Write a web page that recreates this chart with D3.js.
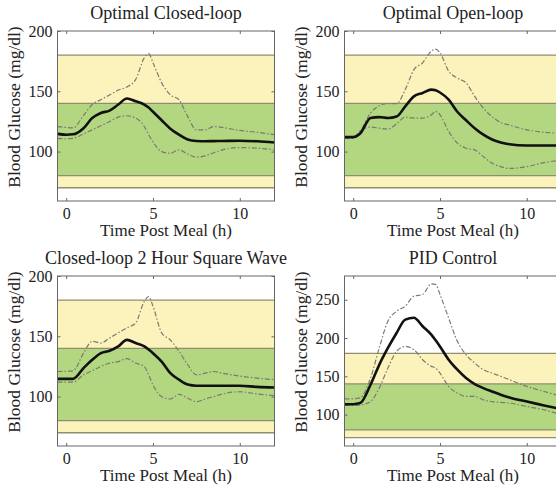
<!DOCTYPE html>
<html>
<head>
<meta charset="utf-8">
<script src="https://cdn.jsdelivr.net/npm/d3@7"></script>
<style>
  html, body { margin: 0; padding: 0; background: #fff; }
  svg { display: block; }
</style>
</head>
<body>
<svg id="chart" width="556" height="488"></svg>
<script>
// Sample times (hours after the meal)
const hours = [-0.5, 0, 0.4, 1, 1.5, 2, 2.5, 3, 3.5, 4, 4.5, 4.75, 5, 5.5, 6, 6.5, 7, 7.5, 8, 8.5, 9, 10, 11, 12];

// Optimal closed-loop: mean and spread (mg/dl)
const closedMean  = [114.7, 114, 114.3, 119.4, 127.8, 132, 134, 139, 144, 141.7, 139, 136.5, 133, 126, 119, 114, 110, 108.8, 108.6, 108.7, 108.8, 109, 108.5, 107.5];
const closedUpper = [120.8, 120, 119.6, 130, 139, 143, 147, 151, 153.6, 159.7, 177.8, 181.2, 173.6, 157, 147, 143, 129, 118, 118, 120.8, 120, 117.5, 116, 114];
const closedLower = [111, 110.6, 111, 114.7, 118, 121.4, 125, 128.6, 129.7, 127.8, 120.8, 114, 108, 100, 98.6, 101.4, 98, 95.3, 96.4, 99, 101.4, 103.3, 102.8, 101.4];

// Optimal open-loop
const openMean  = [112, 112, 115, 127.8, 128.6, 127.8, 129, 137.5, 145.8, 148.6, 151.4, 150.8, 149, 143, 133, 126, 119.4, 114, 110, 107.5, 106, 105, 105, 105];
const openUpper = [112.5, 112.5, 117, 132, 138, 139.7, 139.7, 151.4, 168, 173.6, 183.3, 185, 182, 166.7, 161, 157, 145.8, 136, 129, 124, 122, 118, 116, 115.3];
const openLower = [111, 111, 117, 120.3, 119.4, 118.6, 123, 128.6, 127.8, 127.8, 130.5, 133.3, 130.5, 116.7, 107, 102.8, 101.4, 95.8, 90.3, 87.5, 86, 87.5, 90.8, 93];

// Closed-loop with a 2 hour square wave
const squareMean  = [114.7, 114.7, 114.7, 123.6, 130.5, 136, 138, 141.7, 147, 144.4, 141.7, 139, 136, 129, 119.4, 114, 110, 109, 109, 109, 109, 109, 108, 107.5];
const squareUpper = [120.8, 121, 121.4, 136, 145.8, 144.4, 148.6, 152.8, 157, 161, 179, 183, 175, 152.8, 147, 137.5, 126.4, 118, 119.4, 120.8, 119.4, 117, 115.3, 114];
const squareLower = [112, 112, 112, 118, 121.4, 125, 127.8, 129, 131.4, 127.8, 125, 118, 109.7, 100, 98, 101.9, 98.6, 95.8, 98, 100, 102.2, 104, 102.2, 100.8];

// PID control
const pidMean  = [113.6, 113.6, 115, 139, 165, 187, 206.6, 224, 226.5, 215.4, 204.5, 197, 189, 171.7, 158.6, 147.7, 139.8, 134.6, 130.2, 126, 122.4, 117, 112, 107];
const pidUpper = [120.6, 120.6, 122, 147.7, 187, 222, 235, 241.6, 254.7, 256.9, 270.8, 270, 256.9, 226, 195.7, 178.3, 167.3, 158.6, 154.2, 150, 145.5, 136.8, 130.2, 123.7];
const pidLower = [112, 112, 112.5, 117, 134.6, 160.8, 182.6, 189, 184.8, 171.7, 163, 160.8, 154.2, 136.8, 128, 123.7, 123.7, 119.3, 117, 116, 115, 110.6, 106.2, 99.7];

// Target ranges (mg/dl): outer [70, 180], inner [80, 140]
const outerRange = [70, 180];
const innerRange = [80, 140];

const panelTitles = ["Optimal Closed-loop", "Optimal Open-loop", "Closed-loop 2 Hour Square Wave", "PID Control"];
const xTicks = [0, 5, 10];
const yTicksLow = [100, 150, 200];
const yTicksHigh = [100, 150, 200, 250];
const xLabel = "Time Post Meal (h)";
const yLabel = "Blood Glucose (mg/dl)";

const panels = [
  { title: panelTitles[0], mean: closedMean, upper: closedUpper, lower: closedLower, yDomain: [59, 200], yTicks: yTicksLow },
  { title: panelTitles[1], mean: openMean, upper: openUpper, lower: openLower, yDomain: [59, 200], yTicks: yTicksLow },
  { title: panelTitles[2], mean: squareMean, upper: squareUpper, lower: squareLower, yDomain: [59, 200], yTicks: yTicksLow },
  { title: panelTitles[3], mean: pidMean, upper: pidUpper, lower: pidLower, yDomain: [59, 281], yTicks: yTicksHigh }
];

// Layout of the 2x2 grid
const plotW = 217, plotH = 170;
const origins = [[57.5, 31], [344.5, 31], [57.5, 276], [344.5, 276]];
const serif = "'Times New Roman', 'Liberation Serif', Tinos, 'DejaVu Serif', serif";

const svg = d3.select("#chart");
const axisColor = "#666";
const bandLine = "#8e8e70";

panels.forEach((p, i) => {
  const [ox, oy] = origins[i];
  const g = svg.append("g").attr("transform", `translate(${ox},${oy})`);
  const x = d3.scaleLinear().domain([-0.5, 12]).range([0, plotW]);
  const y = d3.scaleLinear().domain(p.yDomain).range([plotH, 0]);

  const clipId = "clip" + i;
  g.append("clipPath").attr("id", clipId)
    .append("rect").attr("width", plotW).attr("height", plotH);
  const body = g.append("g").attr("clip-path", `url(#${clipId})`);

  // Target bands
  body.append("rect").attr("x", 0).attr("width", plotW)
    .attr("y", y(outerRange[1])).attr("height", y(outerRange[0]) - y(outerRange[1]))
    .attr("fill", "#fbf3bb");
  body.append("rect").attr("x", 0).attr("width", plotW)
    .attr("y", y(innerRange[1])).attr("height", y(innerRange[0]) - y(innerRange[1]))
    .attr("fill", "#b3d681");
  [outerRange[0], innerRange[0], innerRange[1], outerRange[1]].forEach(v => {
    body.append("line").attr("x1", 0).attr("x2", plotW)
      .attr("y1", y(v)).attr("y2", y(v))
      .attr("stroke", bandLine).attr("stroke-width", 1.3);
  });

  const line = d3.line()
    .x((d, k) => x(hours[k]))
    .y(d => y(d))
    .curve(d3.curveMonotoneX);

  [p.upper, p.lower].forEach(s => {
    body.append("path").attr("d", line(s))
      .attr("fill", "none").attr("stroke", "#7a7a70")
      .attr("stroke-width", 1.2).attr("stroke-dasharray", "5,2,1.5,2");
  });
  body.append("path").attr("d", line(p.mean))
    .attr("fill", "none").attr("stroke", "#111")
    .attr("stroke-width", 2.6).attr("stroke-linejoin", "round");

  // Axes: bottom/left labelled, ticks mirrored inward on top/right
  const ax = g.append("g").attr("transform", `translate(0,${plotH})`)
    .call(d3.axisBottom(x).tickValues(xTicks).tickSize(-3).tickPadding(7).tickFormat(d3.format("d")));
  const ay = g.append("g")
    .call(d3.axisLeft(y).tickValues(p.yTicks).tickSize(-3).tickPadding(5).tickFormat(d3.format("d")));
  const axTop = g.append("g")
    .call(d3.axisTop(x).tickValues(xTicks).tickSize(-3).tickFormat(""));
  const ayRight = g.append("g").attr("transform", `translate(${plotW},0)`)
    .call(d3.axisRight(y).tickValues(p.yTicks).tickSize(-3).tickFormat(""));
  [ax, ay, axTop, ayRight].forEach(a => {
    a.attr("font-family", serif).attr("font-size", 16);
    a.select(".domain").remove();
    a.selectAll(".tick line").attr("stroke", axisColor);
    a.selectAll(".tick text").attr("fill", "#222");
  });
  g.append("rect").attr("width", plotW).attr("height", plotH)
    .attr("fill", "none").attr("stroke", axisColor).attr("stroke-width", 1);

  // Titles and axis labels
  g.append("text").attr("x", plotW / 2).attr("y", -12)
    .attr("font-family", serif).attr("fill", "#222")
    .attr("text-anchor", "middle").attr("font-size", 18).text(p.title);
  g.append("text").attr("x", plotW / 2).attr("y", plotH + 35)
    .attr("font-family", serif).attr("fill", "#222")
    .attr("text-anchor", "middle").attr("font-size", 17).text(xLabel);
  g.append("text")
    .attr("transform", `translate(-38,${plotH / 2 - 9}) rotate(-90)`)
    .attr("font-family", serif).attr("fill", "#222")
    .attr("text-anchor", "middle").attr("font-size", 17.5).text(yLabel);
});
</script>
</body>
</html>
